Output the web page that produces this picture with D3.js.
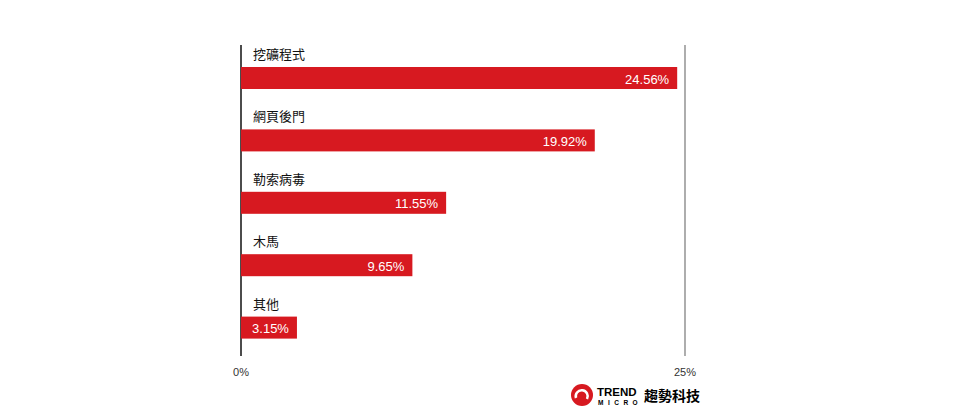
<!DOCTYPE html>
<html><head><meta charset="utf-8">
<script src="https://cdn.jsdelivr.net/npm/d3@7"></script>
<style>body{margin:0;background:#fff;font-family:"Noto Sans CJK TC","Noto Sans",sans-serif}</style>
</head><body>
<script>
const categories = ["挖礦程式", "網頁後門", "勒索病毒", "木馬", "其他"];
const values = [24.56, 19.92, 11.55, 9.65, 3.15];
const tickValues = [0, 25];

const width = 960, height = 420;
const svg = d3.select("body").append("svg").attr("width", width).attr("height", height);

// x scale: 0% at 241, 25% at 685
const x = d3.scaleLinear().domain([0, 25]).range([241, 685]);
// rows: label band + bar
const y = d3.scaleBand().domain(categories).range([45, 357]).paddingInner(0).paddingOuter(0);

// axis lines
svg.selectAll("line.grid").data(tickValues).enter().append("line")
    .attr("x1", d => x(d)).attr("x2", d => x(d))
    .attr("y1", 45).attr("y2", 356)
    .attr("stroke", d => d === 0 ? "#111" : "#777")
    .attr("stroke-width", d => d === 0 ? 1.5 : 1.2);

const row = svg.selectAll("g.row").data(categories).enter().append("g")
    .attr("transform", d => "translate(0," + y(d) + ")");

row.append("text")
    .attr("x", 253).attr("y", 14)
    .attr("font-size", 13).attr("fill", "#111")
    .text(d => d);

row.append("rect")
    .attr("x", x(0)).attr("y", 22)
    .attr("width", (d, i) => x(values[i]) - x(0))
    .attr("height", 22)
    .attr("fill", "#d71920");

row.append("text")
    .attr("x", (d, i) => x(values[i]) - 8).attr("y", 38.5)
    .attr("text-anchor", "end")
    .attr("font-size", 13).attr("fill", "#fff")
    .attr("font-family", "Liberation Sans, Arial, sans-serif")
    .text((d, i) => values[i].toFixed(2) + "%");

// tick labels
svg.selectAll("text.tick").data(tickValues).enter().append("text")
    .attr("x", d => x(d)).attr("y", 376)
    .attr("text-anchor", "middle")
    .attr("font-size", 11).attr("fill", "#333")
    .attr("font-family", "Liberation Sans, Arial, sans-serif")
    .text(d => d + "%");

// logo
const logo = svg.append("g").attr("transform", "translate(582,395)");
logo.append("circle").attr("r", 11).attr("fill", "#d71920");
logo.append("path").attr("d", "M-6,3 A6,6 0 1,1 5,4").attr("fill", "none").attr("stroke", "#fff").attr("stroke-width", 2.5);
logo.append("text").attr("x", 15).attr("y", 1).attr("font-size", 11.5).attr("font-weight", "bold")
    .attr("font-family", "Liberation Sans, Arial, sans-serif").text("TREND");
logo.append("text").attr("x", 16).attr("y", 10).attr("font-size", 6.5).attr("font-weight", "bold")
    .attr("letter-spacing", 4.5).attr("font-family", "Liberation Sans, Arial, sans-serif").text("MICRO");
logo.append("text").attr("x", 62).attr("y", 6).attr("font-size", 14).attr("font-weight", "bold").text("趨勢科技");
</script>
</body></html>
